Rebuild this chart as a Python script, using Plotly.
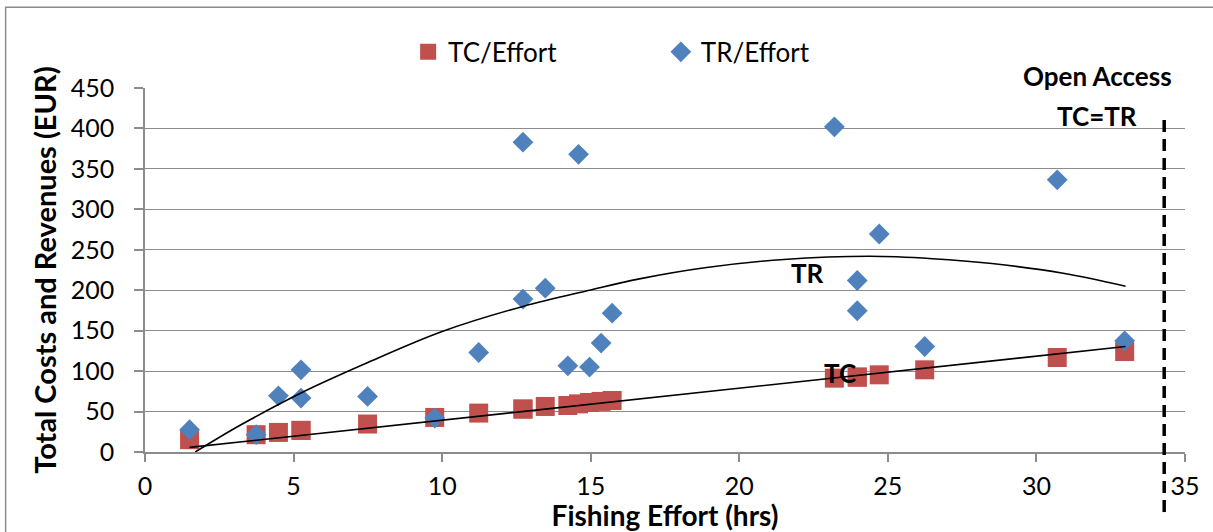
import plotly.graph_objects as go

# ---- data ----
effort_hrs = [1.5, 3.74, 4.49, 5.25, 5.25, 7.49, 9.75, 11.23, 12.72, 12.72, 13.47, 14.23,
              14.59, 14.96, 15.35, 15.72, 23.2, 23.97, 23.97, 24.71, 26.24, 30.7, 32.97]
tr_values = [27.5, 21.4, 69.5, 101.6, 66.7, 68.7, 42, 123, 383, 189, 202.5, 106.5,
             368, 105, 134.6, 171.6, 402, 212, 174.6, 269.5, 130.4, 336.5, 137.5]
tc_values = [15.2, 21.4, 24.2, 26.7, 26.7, 34.6, 42.7, 48.1, 53.1, 53.1, 56.3, 57.5,
             59.5, 61.2, 62.5, 63.7, 91.3, 92.6, 92.6, 95.4, 101.6, 116.8, 124.2]

# trend curves
tr_trend_x = [1.69, 3.2, 5.25, 7.46, 10, 12.72, 14.96, 16.64, 18.9, 21.5, 24.4, 26.5, 28.5, 30.9, 33]
tr_trend_y = [0, 33, 73, 110, 149, 180, 200, 214, 228, 238, 242, 239, 233, 221, 205]
tc_trend_x = [1.5, 33]
tc_trend_y = [5.7, 130.4]

open_access_x = 34.3

x_ticks = [0, 5, 10, 15, 20, 25, 30, 35]
y_ticks = [0, 50, 100, 150, 200, 250, 300, 350, 400, 450]

RED = "#C0504D"
BLUE = "#4F81BD"
GRID = "#8C8C8C"
FONT = "Lato"

fig = go.Figure()

fig.add_trace(go.Scatter(
    x=effort_hrs, y=tc_values, mode="markers", name="TC/Effort",
    marker=dict(symbol="square", size=19, color=RED, line=dict(width=0)),
    legend="legend",
))
fig.add_trace(go.Scatter(
    x=effort_hrs, y=tr_values, mode="markers", name="TR/Effort",
    marker=dict(symbol="diamond", size=16, color=BLUE, line=dict(width=0)),
    legend="legend2",
))
fig.add_trace(go.Scatter(
    x=tr_trend_x, y=tr_trend_y, mode="lines", line=dict(color="black", width=1.6, shape="spline"),
    showlegend=False, hoverinfo="skip",
))
fig.add_trace(go.Scatter(
    x=tc_trend_x, y=tc_trend_y, mode="lines", line=dict(color="black", width=1.6),
    showlegend=False, hoverinfo="skip",
))

# vertical dashed open-access line
fig.add_shape(type="line", xref="x", yref="paper", x0=open_access_x, x1=open_access_x,
              y0=-0.165, y1=0.9286, line=dict(color="black", width=3.5, dash="12px,7px"))
# outer chart border (left & top visible)
fig.add_shape(type="rect", xref="paper", yref="paper", x0=-0.134, x1=1.2, y0=-0.5, y1=1.222,
              line=dict(color=GRID, width=1.5), layer="below")

bold = dict(family=FONT, size=26, color="black", weight="bold")
fig.add_annotation(x=32.06, y=1.033, xref="x", yref="paper", yanchor="middle", xanchor="center",
                   text="<b>Open Access</b>", showarrow=False, font=bold)
fig.add_annotation(x=32.03, y=416, xref="x", yref="y", text="<b>TC=TR</b>",
                   showarrow=False, font=bold)
fig.add_annotation(x=22.3, y=221, xref="x", yref="y", text="<b>TR</b>",
                   showarrow=False, font=bold)
fig.add_annotation(x=23.38, y=98, xref="x", yref="y", text="<b>TC</b>",
                   showarrow=False, font=bold)

fig.update_layout(
    width=1213, height=532,
    margin=dict(l=145, r=28, t=88, b=80, autoexpand=False),
    paper_bgcolor="white", plot_bgcolor="white",
    font=dict(family=FONT, size=25, color="black"),
    legend=dict(x=0.253, y=1.099, xref="paper", yref="paper", xanchor="left", yanchor="middle",
                orientation="h", font=dict(family=FONT, size=26), bgcolor="rgba(0,0,0,0)"),
    legend2=dict(x=0.496, y=1.099, xref="paper", yref="paper", xanchor="left", yanchor="middle",
                 orientation="h", font=dict(family=FONT, size=26), bgcolor="rgba(0,0,0,0)"),
    xaxis=dict(
        range=[0, 35], tickvals=x_ticks, ticktext=[str(v) for v in x_ticks],
        showgrid=False, zeroline=False, showline=True, linecolor=GRID, linewidth=1.5,
        ticks="outside", ticklen=8, tickwidth=1.5, tickcolor=GRID, ticklabelstandoff=3,
        tickfont=dict(family=FONT, size=25), automargin=False,
        title=dict(text="<b>Fishing Effort (hrs)</b>", standoff=12,
                   font=dict(family=FONT, size=28)),
    ),
    yaxis=dict(
        range=[0, 450], tickvals=y_ticks, ticktext=[str(v) for v in y_ticks],
        showgrid=True, gridcolor=GRID, gridwidth=1.3, zeroline=False,
        showline=True, linecolor=GRID, linewidth=1.5,
        ticks="outside", ticklen=9, tickwidth=1.5, tickcolor=GRID, ticklabelstandoff=15,
        tickfont=dict(family=FONT, size=25), automargin=False,
        title=dict(text="<b>Total Costs and Revenues (EUR)</b>", standoff=6,
                   font=dict(family=FONT, size=29)),
    ),
)

fig.write_html("out.html", config={"displayModeBar": False},
               post_script="document.body.style.margin='0';")
